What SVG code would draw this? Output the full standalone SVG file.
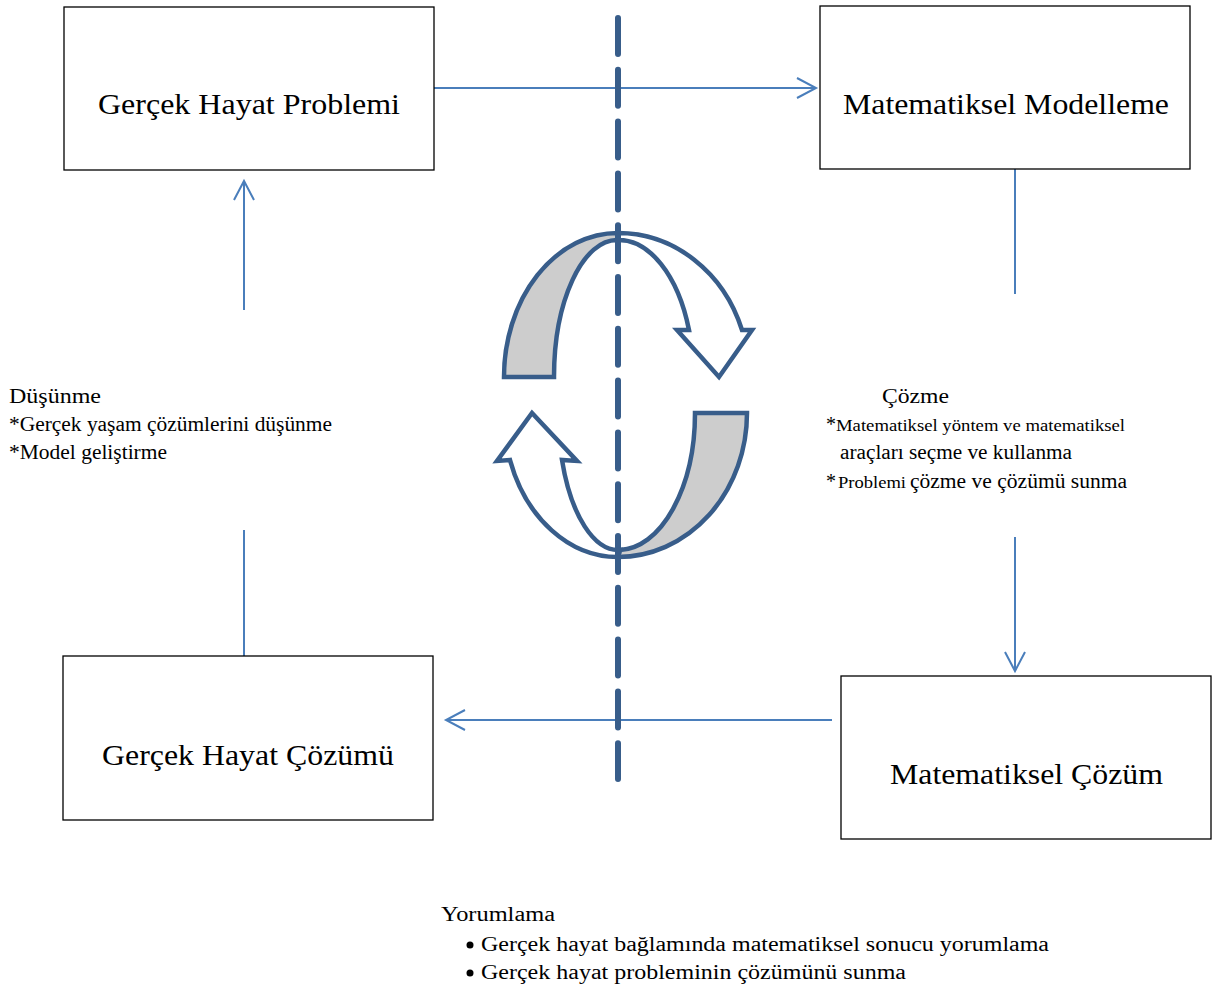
<svg xmlns="http://www.w3.org/2000/svg" width="1219" height="988" viewBox="0 0 1219 988">
<defs>
<style>
.box{fill:#fff;stroke:#000;stroke-width:1.3}
.bt{font-size:29px;fill:#000}
.t{font-size:20px;fill:#000}
.s{font-size:16px}
.con{stroke:#4a7ebb;stroke-width:2;fill:none}
.cyc{stroke:#385d8a;stroke-width:4.5;stroke-linejoin:miter}
</style>
<marker id="ah" markerWidth="24" markerHeight="24" viewBox="-20 -12 24 24" refX="0" refY="0" orient="auto" markerUnits="userSpaceOnUse">
<path d="M-19,-10 L0,0 L-19,10" fill="none" stroke="#4a7ebb" stroke-width="2"/>
</marker>
</defs>
<rect width="1219" height="988" fill="#fff"/>

<g id="connectors">
<line class="con" x1="434" y1="88" x2="816" y2="88" marker-end="url(#ah)"/>
<line class="con" x1="1015" y1="169" x2="1015" y2="294"/>
<line class="con" x1="1015" y1="537" x2="1015" y2="671" marker-end="url(#ah)"/>
<line class="con" x1="832" y1="720" x2="446" y2="720" marker-end="url(#ah)"/>
<line class="con" x1="244" y1="656" x2="244" y2="530"/>
<line class="con" x1="244" y1="310" x2="244" y2="181" marker-end="url(#ah)"/>
</g>

<g id="cycle">
<path class="cyc" fill="#cdcdcd" d="M504,377 A114,144 0 0 1 618,233 L617,240 A63,137 0 0 0 554,377 Z"/>
<path class="cyc" fill="#fff" d="M618,233 A131,144 0 0 1 742,330 L752,330 L719,377 L677,330 L689,330 A75,137 0 0 0 617,240 Z"/>
<path class="cyc" fill="#cdcdcd" d="M747,413 A129,144 0 0 1 618,557 L620,550 A77,137 0 0 0 695,413 Z"/>
<path class="cyc" fill="#fff" d="M618,557 A114,144 0 0 1 510,460 L497,461 L532,413 L577,461 L562,460 A60,137 0 0 0 620,550 Z"/>
</g>

<g id="divider">
<line x1="618" y1="18" x2="618" y2="779" stroke="#385d8a" stroke-width="6" stroke-linecap="round" stroke-dasharray="36 15.8"/>
</g>

<g font-family="Liberation Serif, Times New Roman, serif">
<g id="node-problem">
<rect class="box" x="64" y="7" width="370" height="163"/>
<text class="bt" x="98" y="114" textLength="302" lengthAdjust="spacingAndGlyphs">Gerçek Hayat Problemi</text>
</g>
<g id="node-modelling">
<rect class="box" x="820" y="6" width="370" height="163"/>
<text class="bt" x="843" y="114" textLength="326" lengthAdjust="spacingAndGlyphs">Matematiksel Modelleme</text>
</g>
<g id="node-real-solution">
<rect class="box" x="63" y="656" width="370" height="164"/>
<text class="bt" x="102" y="765" textLength="292" lengthAdjust="spacingAndGlyphs">Gerçek Hayat Çözümü</text>
</g>
<g id="node-math-solution">
<rect class="box" x="841" y="676" width="370" height="163"/>
<text class="bt" x="890" y="784" textLength="273" lengthAdjust="spacingAndGlyphs">Matematiksel Çözüm</text>
</g>

<g id="label-thinking">
<text class="t" x="9" y="403" textLength="92" lengthAdjust="spacingAndGlyphs">Düşünme</text>
<text class="t" x="9" y="431" textLength="323" lengthAdjust="spacingAndGlyphs">*Gerçek yaşam çözümlerini düşünme</text>
<text class="t" x="9" y="459" textLength="158" lengthAdjust="spacingAndGlyphs">*Model geliştirme</text>
</g>

<g id="label-solving">
<text class="t" x="882" y="403" textLength="67" lengthAdjust="spacingAndGlyphs">Çözme</text>
<text class="t" x="826" y="431">*</text>
<text class="t s" x="836" y="431" textLength="289" lengthAdjust="spacingAndGlyphs">Matematiksel yöntem ve matematiksel</text>
<text class="t" x="840" y="459" textLength="232" lengthAdjust="spacingAndGlyphs">araçları seçme ve kullanma</text>
<text class="t" x="826" y="488">*</text>
<text class="t s" x="838" y="488" textLength="68" lengthAdjust="spacingAndGlyphs">Problemi</text>
<text class="t" x="910" y="488" textLength="217" lengthAdjust="spacingAndGlyphs">çözme ve çözümü sunma</text>
</g>

<g id="label-interpreting">
<text class="t" x="441" y="921" textLength="114" lengthAdjust="spacingAndGlyphs">Yorumlama</text>
<circle cx="470" cy="945" r="3.5" fill="#000"/>
<text class="t" x="481" y="951" textLength="568" lengthAdjust="spacingAndGlyphs">Gerçek hayat bağlamında matematiksel sonucu yorumlama</text>
<circle cx="470" cy="973" r="3.5" fill="#000"/>
<text class="t" x="481" y="979" textLength="425" lengthAdjust="spacingAndGlyphs">Gerçek hayat probleminin çözümünü sunma</text>
</g>
</g>
</svg>
